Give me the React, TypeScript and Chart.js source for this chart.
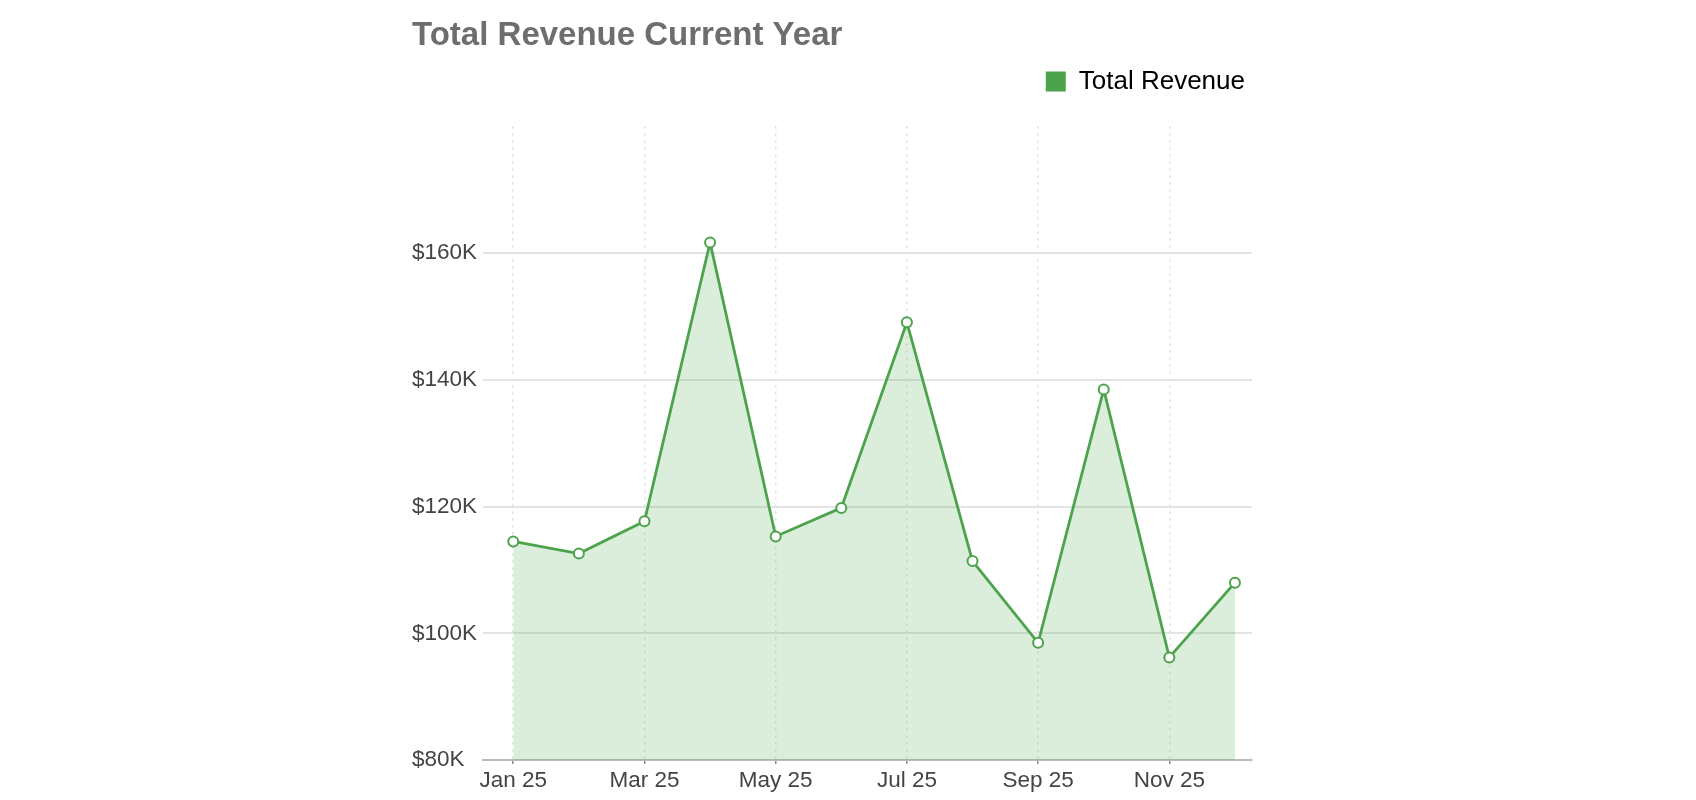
import React, { useEffect, useRef } from "react";
import { Chart, registerables } from "chart.js";

Chart.register(...registerables);

// Monthly revenue for the current year
const months = ["Jan 25", "Feb 25", "Mar 25", "Apr 25", "May 25", "Jun 25", "Jul 25", "Aug 25", "Sep 25", "Oct 25", "Nov 25", "Dec 25"];
const revenue = [114500, 112600, 117700, 161700, 115300, 119800, 149100, 111400, 98500, 138500, 96200, 108000];
// Months that carry an axis label (every other month)
const labeledMonths = [0, 2, 4, 6, 8, 10];
const yTicks = [80000, 100000, 120000, 140000, 160000];

const GREEN = "#4ca34c";
const FONT = "'Liberation Sans', Arial, Helvetica, sans-serif";

// Adds breathing room between the legend and the plot area
const legendSpacing = {
  id: "legendSpacing",
  beforeInit(chart: any) {
    const legend = chart.legend;
    if (!legend) return;
    const fit = legend.fit;
    legend.fit = function () {
      fit.call(this);
      this.height += 22;
    };
  },
};

export default function App() {
  const canvasRef = useRef<HTMLCanvasElement | null>(null);

  useEffect(() => {
    const canvas = canvasRef.current;
    if (!canvas) return;
    const chart = new Chart(canvas, {
      type: "line",
      data: {
        datasets: [
          {
            label: "Total Revenue",
            data: revenue.map((v, i) => ({ x: i, y: v })),
            borderColor: GREEN,
            backgroundColor: "rgba(76,163,76,0.2)",
            borderWidth: 2.8,
            fill: "start",
            tension: 0,
            pointRadius: 5,
            pointBorderWidth: 2,
            pointBackgroundColor: "#ffffff",
            pointBorderColor: GREEN,
          },
        ],
      },
      options: {
        animation: false,
        responsive: true,
        maintainAspectRatio: false,
        layout: { padding: { left: 412, right: 444, top: 16, bottom: 3 } },
        plugins: {
          title: {
            display: true,
            text: "Total Revenue Current Year",
            align: "start",
            color: "#6e6e6e",
            font: { family: FONT, size: 33, weight: "bold" },
            padding: { top: 0, bottom: 6 },
          },
          legend: {
            align: "end",
            labels: {
              boxWidth: 20,
              boxHeight: 20,
              color: "#333333",
              font: { family: FONT, size: 26 },
              padding: 7,
              generateLabels: () => [
                {
                  text: "Total Revenue",
                  fillStyle: GREEN,
                  strokeStyle: GREEN,
                  lineWidth: 0,
                  hidden: false,
                  datasetIndex: 0,
                },
              ],
            },
          },
          tooltip: { enabled: false },
        },
        scales: {
          x: {
            type: "linear",
            min: -0.46,
            max: 11.26,
            afterBuildTicks: (scale) => {
              scale.ticks = labeledMonths.map((v) => ({ value: v }));
            },
            ticks: {
              color: "#444444",
              font: { family: FONT, size: 22.5 },
              padding: 3,
              maxRotation: 0,
              autoSkip: false,
              callback: (v) => months[Number(v)] ?? "",
            },
            grid: {
              color: "#dcdcdc",
              lineWidth: 1.5,
              tickBorderDash: [],
              tickColor: "#888888",
              tickLength: 4,
              tickWidth: 1.5,
            },
            border: { display: true, color: "#bbbbbb", width: 2, dash: [2, 5] },
          },
          y: {
            type: "linear",
            min: 80000,
            max: 180000,
            afterBuildTicks: (scale) => {
              scale.ticks = yTicks.map((v) => ({ value: v }));
            },
            ticks: {
              color: "#444444",
              font: { family: FONT, size: 22.5 },
              crossAlign: "far",
              padding: 3,
              callback: (v) => "$" + Number(v) / 1000 + "K",
            },
            grid: { color: "#e4e4e4", lineWidth: 2, drawTicks: false },
            border: { display: false },
          },
        },
      },
      plugins: [legendSpacing],
    });
    return () => chart.destroy();
  }, []);

  return (
    <div style={{ position: "absolute", left: 0, top: 0, width: 1696, height: 800 }}>
      <canvas ref={canvasRef} />
    </div>
  );
}
